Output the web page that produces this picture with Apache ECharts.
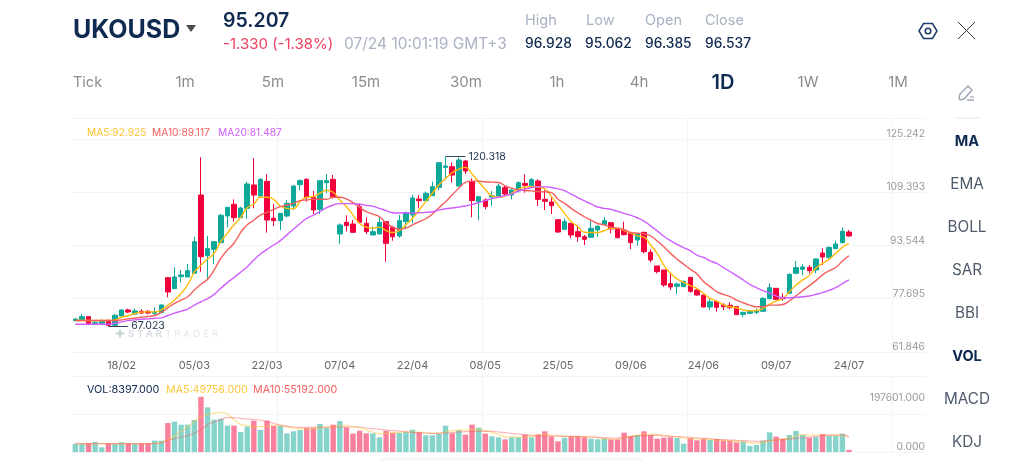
<!DOCTYPE html>
<html><head><meta charset="utf-8">
<style>html,body{margin:0;padding:0;background:#fff}#c{width:1024px;height:471px}
#wm{position:absolute;left:128px;top:327px;font:600 9.5px Inter,"Noto Sans",sans-serif;letter-spacing:3.1px;line-height:13px;color:#D6DADF;white-space:nowrap;pointer-events:none}
#wm span{font-weight:400;color:#E6E8EB}</style>
<script src="https://cdn.jsdelivr.net/npm/echarts@6/dist/echarts.min.js"></script></head>
<body><div id="c"></div><div id="wm">STAR<span>TRADER</span></div>
<script>
const tickLabels = {7:'18/02',18:'05/03',29:'22/03',40:'07/04',51:'22/04',62:'08/05',73:'25/05',84:'09/06',95:'24/06',106:'09/07',117:'24/07'};
const slotCount = 129;
const categories = Array.from({length:slotCount},(_,i)=>tickLabels[i]||'');
const priceTicks = [61.846,77.695,93.544,109.393,125.242];
const volumeTicks = [0,197601];
const highLabel = '120.318', lowLabel = '67.023';
const opens = [71.17,71.37,72.37,70.38,70.38,71.17,69.78,72.56,74.35,73.16,
73.95,73.95,73.36,73.55,83.97,80.7,84.27,84.17,85.26,108.57,
90.52,92.4,94.39,102.32,105.79,101.83,104.6,111.55,108.28,112.64,
101.63,100.94,102.32,105.3,111.65,113.24,107.88,104.31,112.25,113.24,
96.97,100.44,99.94,105.1,100.14,96.67,96.97,100.64,98.95,96.37,
100.64,102.62,107.38,106.89,108.37,110.85,116.81,117.0,111.25,118.69,
112.54,106.59,107.08,107.98,108.28,110.76,108.57,110.06,112.04,111.25,
112.74,107.28,106.49,101.23,98.36,100.14,97.66,96.17,95.97,98.16,
99.74,100.34,98.36,98.16,97.16,95.18,97.46,91.51,87.44,86.25,
82.19,81.39,81.29,84.07,80.3,78.81,75.24,76.93,75.84,75.74,
75.34,73.06,73.36,73.65,73.95,77.72,80.8,78.12,79.31,85.26,
86.45,87.05,86.25,91.31,90.02,92.6,94.39,97.56];
const closes = [71.67,72.37,70.38,70.68,71.17,69.78,72.76,74.35,73.75,74.05,
73.45,73.45,73.75,75.84,79.7,84.17,84.76,86.05,94.68,90.22,
92.6,94.68,102.52,104.9,101.83,104.7,111.85,108.57,113.24,101.13,
100.94,103.12,106.09,111.25,112.84,107.88,104.11,112.84,112.84,108.08,
99.65,99.45,97.46,100.44,97.66,97.66,100.44,94.19,96.17,100.94,
103.32,107.68,106.89,109.07,111.05,118.2,117.2,114.53,118.99,115.72,
106.89,108.08,105.1,108.37,111.25,108.87,110.06,112.24,111.45,113.14,
107.28,106.69,105.4,97.56,100.64,96.67,96.17,95.38,98.65,99.25,
100.94,98.46,95.88,96.77,94.39,96.97,91.71,89.23,85.76,81.79,
81.19,82.09,82.88,79.9,78.81,75.24,76.83,75.14,75.34,75.04,
72.96,73.65,74.05,74.15,77.82,81.0,77.52,77.72,84.96,86.95,
87.15,86.05,89.53,90.12,93.0,93.99,97.76,96.37];
const lows = [70.97,71.37,69.88,69.78,70.18,69.58,69.58,72.56,73.45,72.86,
73.16,73.06,72.56,73.55,78.12,80.7,82.48,84.17,85.26,85.76,
83.47,88.04,94.19,98.95,100.64,101.63,101.53,104.6,107.88,97.36,
99.35,98.16,101.93,104.11,110.06,106.59,102.92,102.92,109.07,107.58,
93.99,97.66,97.36,100.14,96.97,96.57,96.97,88.73,94.98,95.88,
98.36,100.14,104.6,106.59,108.28,110.06,113.24,112.24,111.05,114.82,
101.93,101.13,104.31,105.3,108.28,108.57,107.28,109.27,109.27,111.05,
105.3,104.11,102.92,97.36,98.16,95.68,94.68,93.69,95.97,96.17,
99.65,97.16,95.68,96.57,92.5,93.49,91.21,88.53,85.26,81.29,
80.3,79.11,81.29,79.51,78.62,75.14,74.35,73.85,74.35,74.55,
72.96,72.17,73.26,73.16,73.95,77.52,77.32,77.13,79.11,84.96,
84.76,85.26,85.26,87.74,89.43,92.5,94.19,96.17];
const highs = [71.87,73.16,72.57,70.88,71.57,71.57,73.16,74.55,74.75,74.75,
74.55,74.35,75.14,76.04,84.17,87.05,86.25,88.04,96.17,119.78,
96.37,94.68,102.92,104.9,107.28,105.1,112.44,119.49,113.63,114.72,
105.89,103.12,107.08,111.55,113.24,113.53,109.76,113.04,114.82,114.52,
100.14,102.52,101.13,106.09,101.93,99.15,101.93,100.64,99.35,102.62,
103.62,108.57,108.57,109.57,112.54,118.2,119.98,118.2,119.69,118.99,
113.53,108.08,107.58,109.76,111.85,111.25,110.26,112.64,114.72,113.63,
113.24,110.06,107.88,101.23,101.63,100.14,99.65,96.67,100.94,99.55,
101.93,100.34,98.65,100.64,97.36,97.36,97.66,92.4,87.44,86.25,
85.26,82.48,83.08,84.07,80.5,78.81,77.82,76.93,76.33,76.63,
75.34,73.85,74.35,74.75,78.12,82.28,80.8,79.31,85.26,88.93,
87.94,87.74,89.73,92.7,93.2,94.98,98.95,98.16];
const ma5 = [71.2,71.2,71.2,71.2,71.2,71.2,71.4,72.2,72.7,73.3,
73.7,73.8,73.8,74.4,75.8,77.3,79.3,81.8,85.6,87.7,
89.5,91.2,94.7,97.2,99.7,101.9,104.8,105.9,107.9,107.9,
107.3,105.3,104.6,104.5,106.6,107.9,108.1,109.1,110.0,109.4,
107.1,105.1,102.6,100.1,99.0,98.7,99.0,98.0,97.4,98.0,
99.7,101.6,104.1,106.6,109.1,111.6,113.5,115.2,116.3,116.8,
114.8,112.5,110.3,108.3,107.9,108.3,109.1,110.3,110.9,111.1,
110.9,110.4,108.1,105.6,103.1,100.6,99.2,97.5,97.4,97.4,
98.0,98.6,98.7,98.0,97.2,96.4,96.0,93.7,91.2,87.7,
85.3,83.6,82.6,81.6,80.8,79.3,77.8,77.0,75.9,75.3,
75.0,74.4,74.1,74.2,74.8,76.1,77.0,77.8,79.8,81.8,
83.3,84.6,86.8,88.2,89.5,91.2,93.0,94.2];
const ma10 = [71.2,71.2,71.2,71.2,71.2,71.2,71.2,71.4,71.7,71.9,
72.2,72.4,72.7,73.6,75.0,76.3,77.3,78.3,80.3,82.0,
83.5,86.3,89.7,92.2,94.2,97.4,99.7,101.1,102.6,103.4,
104.3,105.1,105.6,106.1,106.9,107.1,107.3,107.3,107.3,107.9,
107.9,107.4,106.3,104.9,103.6,102.9,102.1,100.3,99.0,98.4,
98.7,99.7,100.6,101.5,102.9,104.8,106.6,108.6,110.6,112.3,
112.7,112.7,112.5,112.4,112.3,111.3,110.6,110.1,109.9,109.8,
109.6,109.5,109.3,107.3,106.1,104.6,103.3,102.1,101.1,100.1,
99.7,99.0,98.7,98.2,97.4,97.2,97.0,96.4,94.9,93.2,
91.2,89.5,88.0,86.5,85.1,82.8,81.3,79.8,79.0,78.3,
77.3,76.5,75.8,75.3,75.3,75.8,75.8,76.0,77.1,78.6,
80.1,81.6,83.1,84.8,86.0,87.0,88.9,90.5];
const ma20 = [70.1,70.1,70.1,70.1,70.1,70.1,70.4,70.8,71.2,71.4,
71.6,71.7,71.9,72.0,72.7,73.4,74.0,74.6,75.8,76.8,
77.7,79.0,80.8,82.5,84.0,85.6,87.2,89.2,91.0,92.4,
93.7,95.0,96.7,98.4,100.1,101.6,102.6,103.6,104.8,105.6,
106.0,106.0,106.0,105.8,105.5,105.2,104.6,103.9,103.3,103.2,
103.2,103.2,103.3,103.4,103.6,104.1,104.5,104.7,105.0,105.3,
105.7,106.3,106.9,107.5,107.9,108.4,108.9,109.7,110.3,110.8,
111.0,111.0,110.8,110.4,109.9,108.8,107.8,106.8,105.9,105.0,
104.6,104.3,103.7,103.1,102.5,101.8,100.8,99.4,97.9,96.3,
95.0,93.9,92.9,92.0,90.7,90.0,89.0,88.2,87.0,85.8,
84.6,83.3,82.0,81.0,80.1,79.4,78.5,78.0,78.0,78.1,
78.3,78.5,79.0,79.5,80.2,81.0,82.2,83.3];
const volumes = [32256,32256,36288,40320,18816,36288,32256,38976,36288,32256,
36288,36288,45696,45696,116928,122304,110208,110208,129024,223104,
180096,130368,134400,106176,106176,80640,102144,126336,88704,126336,
104832,104832,75264,83328,88704,96768,96768,112896,96768,110208,
124992,99456,73920,86016,75264,75264,59136,86016,77952,76608,
80640,90048,80640,67200,67200,72576,106176,75264,88704,69888,
110208,98112,73920,63168,59136,51072,59136,59136,69888,59136,
71232,83328,63168,43008,57792,64512,64512,59136,53760,51072,
55104,51072,51072,77952,64512,68544,83328,68544,53760,57792,
59136,56448,33600,56448,47040,52416,48384,52416,45696,45696,
38976,43008,24192,28224,45696,79296,61824,53760,68544,84672,
68544,57792,60480,72576,64512,64512,73920,8397];
const volMa5 = [33600,33600,33600,33600,33600,33600,33600,33600,33600,33600,
33600,33600,33600,38976,49728,64512,83328,100800,123648,142464,
150528,157248,159936,153216,130368,111552,106176,102144,102144,104832,
107520,106176,102144,96768,94080,92736,94080,96768,99456,102144,
106176,107520,102144,96768,88704,80640,73920,73920,76608,79296,
80640,80640,80640,76608,75264,76608,80640,86016,87360,88704,
90048,90048,86016,79296,69888,61824,60480,59136,60480,63168,
67200,69888,68544,65856,63168,61824,61824,61824,60480,56448,
53760,52416,52416,59136,63168,67200,72576,72576,69888,67200,
64512,61824,56448,53760,52416,52416,49728,48384,47040,45696,
43008,40320,37632,34944,38976,44352,48384,52416,56448,64512,
69888,68544,68544,68544,68544,67200,64512,60480];
const volMa10 = [33600,33600,33600,33600,33600,33600,33600,33600,33600,33600,
33600,33600,33600,37632,47040,53760,60480,65856,76608,90048,
110208,120960,130368,138432,138432,135744,133056,131712,129024,122304,
115584,108864,103488,100800,99456,99456,99456,100800,100800,100800,
100800,100800,100800,100800,96768,94080,91392,88704,86016,84672,
81984,79296,76608,76608,75264,75264,76608,77952,80640,81984,
83328,83328,83328,83328,80640,77952,75264,72576,69888,67200,
65856,64512,64512,64512,63168,63168,63168,61824,60480,59136,
57792,56448,56448,59136,61824,64512,65856,67200,67200,64512,
63168,61824,60480,59136,56448,55104,53760,51072,49728,48384,
47040,45696,44352,43008,44352,47040,48384,49728,52416,55104,
57792,60480,63168,65856,67200,68544,69888,60480];
const candleData = opens.map((o,i)=>[o,closes[i],lows[i],highs[i]]);
const volumeData = volumes.map((v,i)=>({value:v,itemStyle:{color:closes[i]>=opens[i]?'#86D3CC':'#F9809D'}}));

const FONT = 'Inter, "Noto Sans", sans-serif';
const t=(text,x,y,size,fill,weight,align)=>({type:'text',silent:true,z:20,style:{text,x,y:y+1,fill,font:`${weight||400} ${size}px ${FONT}`,textAlign:align||'left',textVerticalAlign:'middle'}});
const ln=(pts,stroke,w)=>({type:'polyline',silent:true,z:20,shape:{points:pts},style:{stroke,lineWidth:w||1,fill:'none'}});
const navy='#0F2A50', grey='#8C8C8C', soft='#A9B3C4', side='#4F5B6D';
const graphics=[
 t('UKOUSD',73,29,25,navy,700),
 {type:'polygon',z:20,silent:true,shape:{points:[[186,25],[196,25],[191,32]]},style:{fill:'#4a4a4a'}},
 t('95.207',223,20,19.5,navy,600),
 t('-1.330 (-1.38%)',223,43,15,'#F0405F'),
 t('07/24 10:01:19 GMT+3',344,43,15.5,soft),
 t('High',525,20,14.5,soft),t('Low',586,20,14.5,soft),t('Open',645,20,14.5,soft),t('Close',705,20,14.5,soft),
 t('96.928',525,43,13.8,navy,500),t('95.062',585,43,13.8,navy,500),t('96.385',645,43,13.8,navy,500),t('96.537',705,43,13.8,navy,500),
 t('Tick',73,81.5,14.5,grey),t('1m',185,81.5,15,grey,400,'center'),t('5m',273,81.5,15,grey,400,'center'),t('15m',366,81.5,15,grey,400,'center'),
 t('30m',466,81.5,15,grey,400,'center'),t('1h',557,81.5,15,grey,400,'center'),t('4h',639,81.5,15,grey,400,'center'),
 t('1D',723,81.5,20,navy,600,'center'),t('1W',808,81.5,15,grey,400,'center'),t('1M',898,81.5,15,grey,400,'center'),
 {type:'polygon',z:20,silent:true,shape:{points:[[919,31],[923.5,23.5],[932.5,23.5],[937,31],[932.5,38.5],[923.5,38.5]]},style:{stroke:'#1B3A66',lineWidth:1.5,fill:'none'}},
 {type:'circle',z:20,silent:true,shape:{cx:928,cy:31,r:2.8},style:{stroke:'#1B3A66',lineWidth:1.5,fill:'none'}},
 ln([[958,22],[975,39]],'#333',1),ln([[975,22],[958,39]],'#333',1),
 {type:'polygon',z:20,silent:true,shape:{points:[[959,98],[960,94],[968,86],[972,90],[964,99],[960,100]]},style:{stroke:'#9AA3B2',lineWidth:1.4,fill:'none'}},
 ln([[967,100],[974,100]],'#9AA3B2',1.4),ln([[970,97],[974,97]],'#9AA3B2',1.2),
 ln([[955,118],[980,118]],'#E4E4E4',1),
 t('MA',967,140.5,14.5,navy,700,'center'),t('EMA',967,183.5,15.3,side,400,'center'),t('BOLL',967,226.5,15.3,side,400,'center'),
 t('SAR',967,269.5,15.3,side,400,'center'),t('BBI',967,312.5,15.3,side,400,'center'),t('VOL',967,355.5,14.5,navy,700,'center'),
 t('MACD',967,398.5,15.3,side,400,'center'),t('KDJ',967,441.5,15.3,side,400,'center'),
 t('MA5:92.925',87,131.5,10.2,'#FFC02E'),t('MA10:89.117',152,131.5,10.2,'#F4605E'),t('MA20:81.487',218,131.5,10.2,'#D15CFF'),
 t('VOL:8397.000',87,388.5,10.8,navy),t('MA5:49756.000',166,388.5,10.7,'#FFC83D'),t('MA10:55192.000',253,388.5,10.7,'#F4605E'),
 {type:'polygon',z:20,silent:true,shape:{points:[[120,328],[121.5,332],[125.5,333.5],[121.5,335],[120,339],[118.5,335],[114.5,333.5],[118.5,332]]},style:{fill:'#C9D6D6'}},
 {type:'rect',z:1,silent:true,shape:{x:380,y:457,width:263,height:4},style:{fill:'#F8F8F8'}}
];
const splitLine={show:true,lineStyle:{color:'#F4F4F4',width:1}};
const vertical=(gridIndex)=>({type:'value',gridIndex,min:0,max:853,interval:205,position:'top',axisLine:{show:false},axisTick:{show:false},axisLabel:{show:false},splitLine:{...splitLine,showMinLine:false,showMaxLine:false}});
const option={
 animation:false,backgroundColor:'#fff',graphic:graphics,
 grid:[{left:72,width:853,top:118,height:234},{left:72,width:853,top:376.7,height:75.3}],
 xAxis:[
  {type:'category',gridIndex:0,data:categories,axisLine:{show:false},axisTick:{show:false},splitLine:{show:false},
   axisLabel:{interval:0,color:'#666',fontFamily:FONT,fontSize:11,margin:8,hideOverlap:false}},
  {type:'category',gridIndex:1,data:categories,axisLine:{show:false},axisTick:{show:false},axisLabel:{show:false},splitLine:{show:false}},
  vertical(0),vertical(1)
 ],
 yAxis:[
  {type:'value',gridIndex:0,min:priceTicks[0],max:131.49,position:'right',axisLine:{show:false},
   axisTick:{show:false,customValues:[...priceTicks,131.49]},splitLine,
   axisLabel:{customValues:priceTicks,inside:true,margin:0,verticalAlign:'bottom',color:'#999',fontFamily:FONT,fontSize:10.3,formatter:v=>v.toFixed(3)}},
  {type:'value',gridIndex:1,min:0,max:303700,position:'right',axisLine:{show:false},
   axisTick:{show:false,customValues:[0,153250,303700]},splitLine,
   axisLabel:{customValues:volumeTicks,inside:true,margin:0,verticalAlign:'bottom',color:'#999',fontFamily:FONT,fontSize:10.3,formatter:v=>v.toFixed(3)}}
 ],
 series:[
  {type:'candlestick',xAxisIndex:0,yAxisIndex:0,data:candleData,barWidth:5,z:3,
   itemStyle:{color:'#0DA899',color0:'#F2003C',borderColor:'#0DA899',borderColor0:'#F2003C',borderWidth:1},
   markLine:{silent:true,symbol:'none',animation:false,lineStyle:{color:'#34465F',width:1,type:'solid'},
    label:{show:true,position:'end',distance:3,color:'#1B2F4E',fontFamily:FONT,fontSize:10.6},
    data:[[{coord:[56,highs[56]]},{coord:[59,highs[56]],label:{formatter:highLabel}}],
          [{coord:[5,lows[5]]},{coord:[8,lows[5]],label:{formatter:lowLabel}}]]}},
  {type:'line',xAxisIndex:0,yAxisIndex:0,data:ma5,smooth:true,showSymbol:false,z:4,lineStyle:{color:'#FFBB0F',width:1.4}},
  {type:'line',xAxisIndex:0,yAxisIndex:0,data:ma10,smooth:true,showSymbol:false,z:4,lineStyle:{color:'#F5605D',width:1.4}},
  {type:'line',xAxisIndex:0,yAxisIndex:0,data:ma20,smooth:true,showSymbol:false,z:4,lineStyle:{color:'#CF5CFF',width:1.4}},
  {type:'bar',xAxisIndex:1,yAxisIndex:1,data:volumeData,barWidth:5.4,z:3},
  {type:'line',xAxisIndex:1,yAxisIndex:1,data:volMa5,smooth:true,showSymbol:false,z:4,lineStyle:{color:'#FFC83D',width:1.2,opacity:.55}},
  {type:'line',xAxisIndex:1,yAxisIndex:1,data:volMa10,smooth:true,showSymbol:false,z:4,lineStyle:{color:'#F4605E',width:1.2,opacity:.45}}
 ]
};
echarts.init(document.getElementById('c'),null,{renderer:'canvas'}).setOption(option);
</script></body></html>
